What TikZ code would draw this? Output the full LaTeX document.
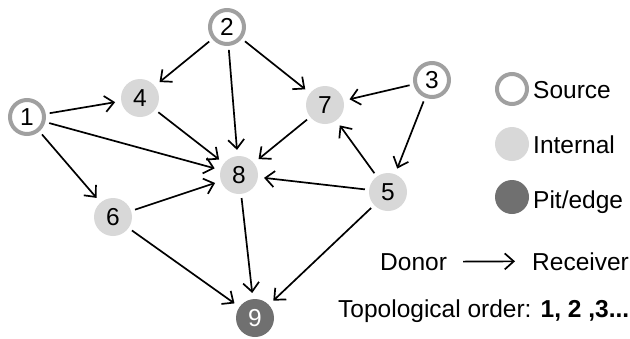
\documentclass[tikz,border=0pt]{standalone}
\usepackage{fontspec}
\setmainfont{Liberation Sans}
\usetikzlibrary{arrows.meta}
\definecolor{ringgray}{RGB}{160,160,160}
\definecolor{intgray}{RGB}{216,216,216}
\definecolor{pitgray}{RGB}{112,112,112}
\begin{document}
\begin{tikzpicture}[x=1pt,y=-1pt,
  font=\fontsize{24.5}{28}\selectfont,
  src/.style={circle,draw=ringgray,line width=4pt,fill=white,minimum size=34pt,inner sep=0pt},
  intl/.style={circle,fill=intgray,minimum size=38pt,inner sep=0pt},
  pit/.style={circle,fill=pitgray,text=white,minimum size=38pt,inner sep=0pt},
  lsrc/.style={circle,draw=ringgray,line width=4pt,fill=white,minimum size=30pt,inner sep=0pt},
  lintl/.style={circle,fill=intgray,minimum size=34pt,inner sep=0pt},
  lpit/.style={circle,fill=pitgray,minimum size=34pt,inner sep=0pt},
  lbl/.style={anchor=base west,inner sep=0pt},
  edge/.style={-{Straight Barb[length=9pt,width=16pt,line width=1.7pt]},line width=1.7pt,shorten >=6pt,shorten <=4pt}]
\useasboundingbox (0,0) rectangle (630,338);
\node[src]  (n1) at (27,117) {1};
\node[src]  (n2) at (227,27) {2};
\node[src]  (n3) at (432,80) {3};
\node[intl] (n4) at (140,98) {4};
\node[intl] (n5) at (388,192) {5};
\node[intl] (n6) at (113,217) {6};
\node[intl] (n7) at (325,105) {7};
\node[intl] (n8) at (239,175) {8};
\node[pit]  (n9) at (255,318) {9};
\draw[edge] (n1) -- (n4);
\draw[edge] (n1) -- (n8);
\draw[edge] (n1) -- (n6);
\draw[edge] (n2) -- (n4);
\draw[edge] (n2) -- (n8);
\draw[edge] (n2) -- (n7);
\draw[edge] (n3) -- (n7);
\draw[edge] (n3) -- (n5);
\draw[edge] (n4) -- (n8);
\draw[edge] (n7) -- (n8);
\draw[edge] (n5) -- (n7);
\draw[edge] (n5) -- (n8);
\draw[edge] (n5) -- (n9);
\draw[edge] (n6) -- (n8);
\draw[edge] (n6) -- (n9);
\draw[edge] (n8) -- (n9);
% legend
\node[lsrc]  (ls) at (512,89) {};
\node[lintl] (li) at (512,144) {};
\node[lpit]  (lp) at (512,197) {};
\node[lbl] (tsrc) at (533,98) {Source};
\node[lbl] (tint) at (533,153) {Internal};
\node[lbl] (tpit) at (533,208) {Pit/edge};
\node[lbl] (donor) at (380,270) {Donor};
\node[lbl] (recv) at (532,270) {Receiver};
\draw[edge,shorten <=16pt,shorten >=17pt] (donor.east) -- (recv.west);
\node[lbl] (topo) at (338,317) {Topological order: \textbf{1, 2 ,3...}};
\end{tikzpicture}
\end{document}
